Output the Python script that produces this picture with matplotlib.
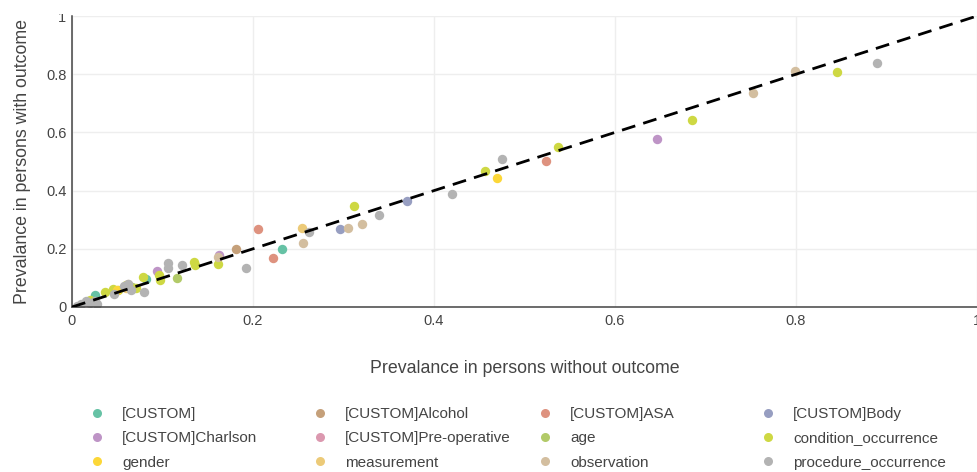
import matplotlib
matplotlib.use("Agg")
import matplotlib.pyplot as plt
from matplotlib.lines import Line2D
from matplotlib.transforms import Bbox

plt.rcParams['font.family'] = ['Liberation Sans', 'DejaVu Sans']

# ---- data ----
categories = ["[CUSTOM]", "[CUSTOM]Alcohol", "[CUSTOM]ASA", "[CUSTOM]Body",
              "[CUSTOM]Charlson", "[CUSTOM]Pre-operative", "age", "condition_occurrence",
              "gender", "measurement", "observation", "procedure_occurrence"]

colors = ["#66C2A5", "#C5A07A", "#DE927F", "#979EC1", "#BE94C6", "#DB98AF",
          "#B2CA68", "#CED843", "#FCD738", "#ECCA78", "#D3BE9F", "#B3B3B3"]

custom_x = [0.025, 0.082, 0.232]
custom_y = [0.040, 0.097, 0.198]
alcohol_x = [0.181]
alcohol_y = [0.198]
asa_x = [0.206, 0.222, 0.524]
asa_y = [0.269, 0.167, 0.501]
body_x = [0.296, 0.370]
body_y = [0.268, 0.363]
charlson_x = [0.094, 0.162, 0.646]
charlson_y = [0.125, 0.178, 0.576]
preop_x = [0.018]
preop_y = [0.016]
age_x = [0.116, 0.066]
age_y = [0.101, 0.070]
cond_x = [0.020, 0.036, 0.045, 0.051, 0.060, 0.071, 0.078, 0.096, 0.097, 0.135, 0.136,
          0.161, 0.312, 0.456, 0.537, 0.685, 0.845]
cond_y = [0.025, 0.053, 0.062, 0.057, 0.076, 0.064, 0.104, 0.110, 0.092, 0.156, 0.144,
          0.148, 0.346, 0.467, 0.551, 0.644, 0.809]
gender_x = [0.050, 0.470]
gender_y = [0.060, 0.443]
meas_x = [0.060, 0.254]
meas_y = [0.066, 0.273]
obs_x = [0.062, 0.161, 0.255, 0.305, 0.320, 0.752, 0.799]
obs_y = [0.080, 0.172, 0.220, 0.273, 0.285, 0.735, 0.810]
proc_x = [0.005, 0.010, 0.015, 0.020, 0.025, 0.028, 0.046, 0.058, 0.062, 0.065, 0.080,
          0.106, 0.106, 0.122, 0.192, 0.262, 0.339, 0.420, 0.475, 0.890]
proc_y = [0.005, 0.012, 0.020, 0.015, 0.022, 0.010, 0.045, 0.072, 0.080, 0.058, 0.050,
          0.152, 0.134, 0.144, 0.133, 0.257, 0.316, 0.389, 0.509, 0.839]

series_x = [custom_x, alcohol_x, asa_x, body_x, charlson_x, preop_x, age_x, cond_x,
            gender_x, meas_x, obs_x, proc_x]
series_y = [custom_y, alcohol_y, asa_y, body_y, charlson_y, preop_y, age_y, cond_y,
            gender_y, meas_y, obs_y, proc_y]

ticks = [0, 0.2, 0.4, 0.6, 0.8, 1]
tick_labels = ["0", "0.2", "0.4", "0.6", "0.8", "1"]
diag = [0, 1]

# ---- figure ----
W, H = 978, 472
fig = plt.figure(figsize=(W / 100, H / 100), dpi=100)
ax = fig.add_axes([72 / W, 1 - 307 / H, (977 - 72) / W, (307 - 16) / H])

for xs, ys, c in zip(series_x, series_y, colors):
    ax.scatter(xs, ys, s=46, color=c, linewidths=0, zorder=2)

ax.plot(diag, diag, color="black", lw=2.0, dashes=(5, 3), zorder=3)

ax.set_xlim(0, 1)
ax.set_ylim(0, 1)
ax.set_xticks(ticks)
ax.set_xticklabels(tick_labels)
ax.set_yticks(ticks)
ax.set_yticklabels(tick_labels)
ax.tick_params(axis='both', length=0, labelsize=10.5, colors="#444444")
ax.tick_params(axis='x', pad=5)
ax.tick_params(axis='y', pad=4)
ax.grid(True, color="#eeeeee", lw=1)
ax.set_axisbelow(True)
for side in ["top", "right"]:
    ax.spines[side].set_visible(False)
for side in ["left", "bottom"]:
    ax.spines[side].set_color("#444444")
    ax.spines[side].set_linewidth(1.1)

ax.set_xlabel("Prevalance in persons without outcome", fontsize=12.8, color="#444444", labelpad=23)
ax.set_ylabel("Prevalance in persons with outcome", fontsize=12.8, color="#444444", labelpad=11)

clip = Bbox.from_extents(0, 0, W, H - 14)
for t in ax.yaxis.get_major_ticks():
    t.label1.set_clip_box(clip)
    t.label1.set_clip_on(True)

# ---- legend: 4 columns, 3 rows, row-major ----
col_x = [89.5, 312.5, 537.5, 760.5]
for ci in range(4):
    idx = [ci, ci + 4, ci + 8]
    handles = [Line2D([], [], marker='o', linestyle='none', markersize=6.5,
                      markerfacecolor=colors[i], markeredgewidth=0) for i in idx]
    labels = [categories[i] for i in idx]
    fig.legend(handles, labels, loc='upper left',
               bbox_to_anchor=(col_x[ci] / W, 1 - 407 / H),
               frameon=False, fontsize=11, handlelength=1.0, handletextpad=1.15,
               labelspacing=0.68, borderpad=0, borderaxespad=0,
               labelcolor="#444444")

fig.savefig("out.png", dpi=100)
